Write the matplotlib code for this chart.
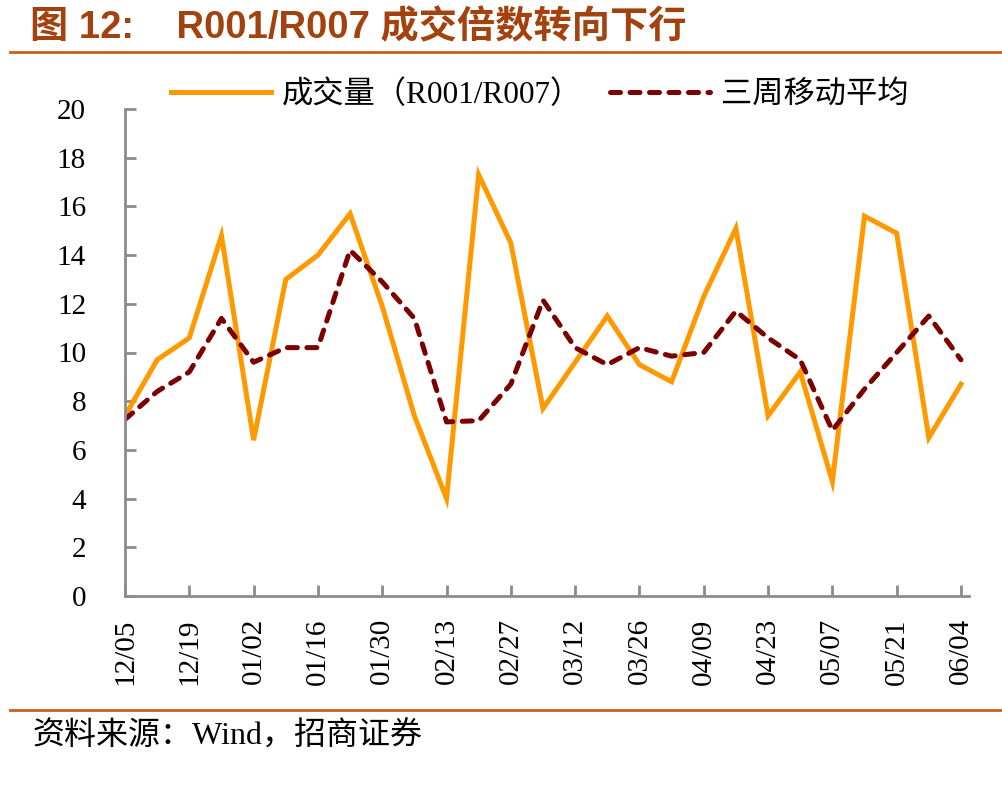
import matplotlib
matplotlib.use("Agg")
import matplotlib.pyplot as plt
import numpy as np

dates = ["12/05", "12/12", "12/19", "12/26", "01/02", "01/09", "01/16", "01/23",
         "01/30", "02/06", "02/13", "02/20", "02/27", "03/05", "03/12", "03/19",
         "03/26", "04/02", "04/09", "04/16", "04/23", "04/30", "05/07", "05/14",
         "05/21", "05/28", "06/04"]
ratio = [7.4, 9.7, 10.6, 14.8, 6.4, 13.0, 14.0, 15.7, 11.9, 7.4, 4.0, 17.3, 14.5,
         7.7, 9.6, 11.5, 9.5, 8.8, 12.3, 15.1, 7.4, 9.2, 4.7, 15.6, 14.9, 6.5, 8.7]
ma3 = [7.25, 8.4, 9.2, 11.4, 9.6, 10.2, 10.2, 14.2, 12.9, 11.4, 7.15, 7.2, 8.7,
       12.15, 10.2, 9.5, 10.2, 9.85, 10.0, 11.7, 10.6, 9.7, 6.8, 8.5, 10.0, 11.5, 9.7]

title = "图 12:    R001/R007 成交倍数转向下行"
source = "资料来源：Wind，招商证券"

serif = ["Liberation Serif", "Noto Sans CJK SC"]
title_col = "#A3420E"
rule_col = "#C5601F"
axis_col = "#8C8C8C"

fig = plt.figure(figsize=(10.03, 7.99), dpi=100)
ax = fig.add_axes([125 / 1003, 1 - 596 / 799, 844 / 1003, 487 / 799])

x = np.arange(len(dates))
ax.plot(x, ratio, color="#FF9900", lw=3.6, solid_joinstyle="miter",
        label="成交量（R001/R007）")
ax.plot(x, ma3, color="#7B0000", lw=3.6, dashes=(2.0, 1.9),
        dash_capstyle="round", label="三周移动平均")

ax.set_xlim(0, 26.25)
ax.set_ylim(0, 20)
ax.set_yticks(np.arange(0, 21, 2))
ax.set_xticks(x[::2])
ax.set_xticklabels(dates[::2], rotation=90, family=serif, fontsize=21)
for lab in ax.get_yticklabels():
    lab.set_family(serif)
    lab.set_fontsize(21)

for s in ["top", "right"]:
    ax.spines[s].set_visible(False)
for s in ["left", "bottom"]:
    ax.spines[s].set_color(axis_col)
    ax.spines[s].set_linewidth(2)
ax.tick_params(axis="both", direction="in", length=8, width=2, color=axis_col,
               labelcolor="black")
ax.tick_params(axis="y", pad=28)
ax.tick_params(axis="x", pad=16)

leg = fig.legend(loc="center", bbox_to_anchor=(540 / 1003, 1 - 95 / 799),
                 ncol=2, frameon=False, handlelength=3.2, columnspacing=0.9,
                 handletextpad=0.35, prop={"family": serif, "size": 22.5})

fig.text(30 / 1003, 1 - 28 / 799, title, color=title_col, fontsize=27.5,
         fontweight="bold", va="center", ha="left",
         family=["Liberation Sans", "Noto Sans CJK SC"])
fig.add_artist(plt.Line2D([10 / 1003, 1], [1 - 52 / 799] * 2, color=rule_col, lw=2))
fig.add_artist(plt.Line2D([10 / 1003, 1], [1 - 710 / 799] * 2, color=rule_col, lw=2))
fig.text(32 / 1003, 1 - 737 / 799, source, fontsize=23, va="center", ha="left",
         family=serif)

fig.savefig("out.png", dpi=100)
